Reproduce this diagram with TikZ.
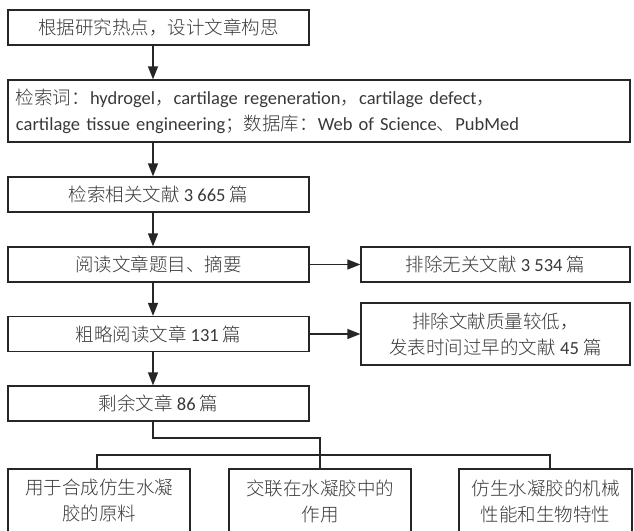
\documentclass[tikz,border=0pt]{standalone}
\usepackage{fontspec}
\setmainfont{Carlito}
\newfontfamily\cjk{Noto Sans CJK SC Light}
\usetikzlibrary{arrows.meta}
\newcommand\myfs{\fontsize{18.5}{26}\selectfont}
\begin{document}
\begin{tikzpicture}[x=1pt,y=-1pt,
  box/.style={draw=black!85, line width=1.2pt, inner sep=0pt, text=black!78, font=\myfs, align=center},
  arr/.style={-{Triangle[length=13pt,width=10pt]}, line width=1.2pt, draw=black!85},
  conn/.style={line width=1.2pt, draw=black!85}]
\useasboundingbox (0,0) rectangle (634,530);
\clip (0,0) rectangle (634,530);
\node[box, minimum width=301pt, minimum height=35pt] (b1) at (158.5,27.5) {{\cjk 根据研究热点，设计文章构思}};
\node[box, minimum width=622pt, minimum height=62pt, text width=606pt, align=left] (b2) at (319,111)
  {{\cjk 检索词：}hydrogel{\cjk ，}cartilage regeneration{\cjk ，}cartilage defect{\cjk ，}\\cartilage tissue engineering{\cjk ；数据库：}Web of Science{\cjk 、}PubMed};
\node[box, minimum width=301pt, minimum height=35pt] (b3) at (158.5,194.5) {{\cjk 检索相关文献} 3 665 {\cjk 篇}};
\node[box, minimum width=301pt, minimum height=35pt] (b4) at (158.5,264.5) {{\cjk 阅读文章题目、摘要}};
\node[box, minimum width=269pt, minimum height=35pt] (b4r) at (495.5,264.5) {{\cjk 排除无关文献} 3 534 {\cjk 篇}};
\node[box, minimum width=301pt, minimum height=35pt] (b5) at (158.5,334) {{\cjk 粗略阅读文章} 131 {\cjk 篇}};
\node[box, minimum width=269pt, minimum height=62pt] (b5r) at (495.5,334) {{\cjk 排除文献质量较低，}\\{\cjk 发表时间过早的文献} 45 {\cjk 篇}};
\node[box, minimum width=301pt, minimum height=35pt] (b6) at (158.5,403.5) {{\cjk 剩余文章} 86 {\cjk 篇}};
\node[box, font=\myfs\cjk, minimum width=182pt, minimum height=64pt] (c1) at (99,501) {用于合成仿生水凝\\胶的原料};
\node[box, font=\myfs\cjk, minimum width=182pt, minimum height=64pt] (c2) at (320,501) {交联在水凝胶中的\\作用};
\node[box, font=\myfs\cjk, minimum width=173pt, minimum height=64pt] (c3) at (545.5,501) {仿生水凝胶的机械\\性能和生物特性};
\coordinate (ax) at (153,0);
\draw[arr] (b1.south -| ax) -- (b2.north -| ax);
\draw[arr] (b2.south -| ax) -- (b3.north -| ax);
\draw[arr] (b3.south -| ax) -- (b4.north -| ax);
\draw[arr] (b4.south -| ax) -- (b5.north -| ax);
\draw[arr] (b5.south -| ax) -- (b6.north -| ax);
\draw[arr] (b4.east) -- (b4r.west);
\draw[arr] (b5.east) -- (b5r.west);
\coordinate (j1) at (320,438);
\draw[conn] (b6.south -| ax) |- (j1) -- (c2.north);
\coordinate (hl) at (97,455);
\coordinate (hr) at (550,455);
\draw[conn] (c1.north -| hl) -- (hl) -- (hr) -- (c3.north -| hr);
\end{tikzpicture}
\end{document}
